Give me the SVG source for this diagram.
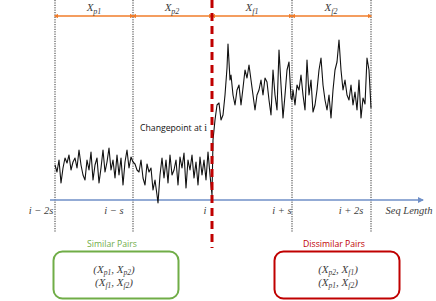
<svg xmlns="http://www.w3.org/2000/svg" width="436" height="301" viewBox="0 0 436 301">
<style>
.math{font-family:"Liberation Serif","DejaVu Serif",serif;font-style:italic;font-size:11px;fill:#404040}
.mathn{font-family:"Liberation Serif","DejaVu Serif",serif;font-style:normal}
.lbl{font-family:"Open Sans","Liberation Sans",sans-serif;font-size:8.7px}
.dot{stroke:#333;stroke-width:1;stroke-dasharray:1.2 1.2;fill:none}
.seg{stroke:#F07C2A;stroke-width:1.3;fill:none;marker-start:url(#oa);marker-end:url(#oa)}
.sig{stroke:#111;stroke-width:1.1;fill:none;stroke-linejoin:round}
</style>
<defs>
<marker id="oa" viewBox="0 0 6 6" refX="3" refY="3" markerWidth="3.5" markerHeight="3.5" orient="auto-start-reverse"><path d="M0,0L6,3L0,6z" fill="#F07C2A"/></marker>
<marker id="ba" viewBox="0 0 6 6" refX="5" refY="3" markerWidth="4" markerHeight="4" orient="auto"><path d="M0,0L6,3L0,6z" fill="#6F8FC7"/></marker>
</defs>
<g id="guides">
<line class="dot" x1="55" y1="0" x2="55" y2="232"/>
<line class="dot" x1="133" y1="0" x2="133" y2="232"/>
<line class="dot" x1="292" y1="0" x2="292" y2="232"/>
<line class="dot" x1="371" y1="0" x2="371" y2="232"/>
</g>
<g id="connectors">
<line class="seg" x1="56" y1="16" x2="132" y2="16"/>
<line class="seg" x1="134" y1="16" x2="211" y2="16"/>
<line class="seg" x1="213" y1="16" x2="291" y2="16"/>
<line class="seg" x1="293" y1="16" x2="370" y2="16"/>
<line x1="50" y1="200" x2="423" y2="200" stroke="#6F8FC7" stroke-width="1.5" marker-end="url(#ba)"/>
</g>
<g id="signal">
<polyline class="sig" points="55,165 57,172 59,160 61,183 63,168 65,158 67,163 69,155 71,170 73,162 75,158 77,168 79,150 81,165 83,175 85,180 87,160 89,170 91,152 93,180 95,165 97,158 99,183 101,168 103,150 105,172 107,162 109,148 111,170 113,160 115,178 117,155 119,175 121,158 123,185 125,162 127,150 129,168 131,157 133,162 135,164 137,170 139,172 141,160 143,178 145,185 147,164 149,172 151,168 153,190 155,180 157,195 158,203 160,175 162,158 164,178 166,160 168,183 170,155 172,175 174,170 176,160 178,185 180,157 182,168 184,153 186,188 188,160 190,170 192,155 194,178 196,162 198,185 200,157 202,175 204,160 206,180 208,152 210,175 212,195 213,140 215,120 217,105 219,103 221,120 223,115 225,95 227,68 228,44 230,80 231,75 233,95 235,105 237,90 239,85 241,105 243,88 245,70 247,78 249,65 251,80 253,95 255,110 257,95 259,90 261,80 263,95 265,78 267,82 269,100 271,115 273,70 275,95 277,110 279,50 281,85 283,118 285,95 287,70 289,62 291,98 292,100 293,90 295,105 297,85 299,90 301,75 303,95 305,110 307,60 309,95 311,80 313,112 315,105 317,90 319,70 321,58 323,85 325,100 327,110 329,95 331,118 333,90 335,70 337,62 339,40 341,70 343,90 345,80 347,95 349,100 351,85 353,105 355,92 357,110 359,80 361,118 363,98 365,104 367,58 369,70 371,108"/>
</g>
<g id="changepoint">
<line x1="212" y1="0" x2="212" y2="248" stroke="#C00000" stroke-width="3" stroke-dasharray="8 5"/>
<text class="lbl" x="140" y="131" fill="#111">Changepoint at <tspan class="mathn" font-style="italic" font-size="10">i</tspan></text>
</g>
<g id="segment-labels" class="math">
<text x="94" y="11" text-anchor="middle">X<tspan font-size="8" dy="2.5">p1</tspan></text>
<text x="172" y="11" text-anchor="middle">X<tspan font-size="8" dy="2.5">p2</tspan></text>
<text x="252" y="11" text-anchor="middle">X<tspan font-size="8" dy="2.5">f1</tspan></text>
<text x="331" y="11" text-anchor="middle">X<tspan font-size="8" dy="2.5">f2</tspan></text>
</g>
<g id="axis-labels" class="math" font-size="10">
<text x="41" y="214" text-anchor="middle" font-size="10.5">i − 2s</text>
<text x="114" y="214" text-anchor="middle" font-size="10.5">i − s</text>
<text x="205" y="214" text-anchor="middle" font-size="10.5">i</text>
<text x="282" y="214" text-anchor="middle" font-size="10.5">i + s</text>
<text x="351" y="214" text-anchor="middle" font-size="10.5">i + 2s</text>
<text x="409" y="214" text-anchor="middle" font-size="10.5">Seq  Length</text>
</g>
<g id="similar">
<text class="lbl" x="112" y="247" text-anchor="middle" fill="#70AD47">Similar Pairs</text>
<rect x="53.5" y="251.5" width="125" height="47" rx="9" fill="none" stroke="#70AD47" stroke-width="2"/>
<text class="math" x="114" y="273" text-anchor="middle" font-size="11" fill="#70AD47">(X<tspan font-size="7.5" dy="2">p1</tspan><tspan dy="-2">, X</tspan><tspan font-size="7.5" dy="2">p2</tspan><tspan dy="-2">)</tspan></text>
<text class="math" x="114" y="286" text-anchor="middle" font-size="11" fill="#70AD47">(X<tspan font-size="7.5" dy="2">f1</tspan><tspan dy="-2">, X</tspan><tspan font-size="7.5" dy="2">f2</tspan><tspan dy="-2">)</tspan></text>
</g>
<g id="dissimilar">
<text class="lbl" x="334" y="247" text-anchor="middle" fill="#C00000">Dissimilar Pairs</text>
<rect x="274.5" y="251.5" width="125" height="47" rx="9" fill="none" stroke="#C00000" stroke-width="2"/>
<text class="math" x="338" y="273" text-anchor="middle" font-size="11" fill="#C00000">(X<tspan font-size="7.5" dy="2">p2</tspan><tspan dy="-2">, X</tspan><tspan font-size="7.5" dy="2">f1</tspan><tspan dy="-2">)</tspan></text>
<text class="math" x="338" y="286" text-anchor="middle" font-size="11" fill="#C00000">(X<tspan font-size="7.5" dy="2">p1</tspan><tspan dy="-2">, X</tspan><tspan font-size="7.5" dy="2">f2</tspan><tspan dy="-2">)</tspan></text>
</g>
</svg>
